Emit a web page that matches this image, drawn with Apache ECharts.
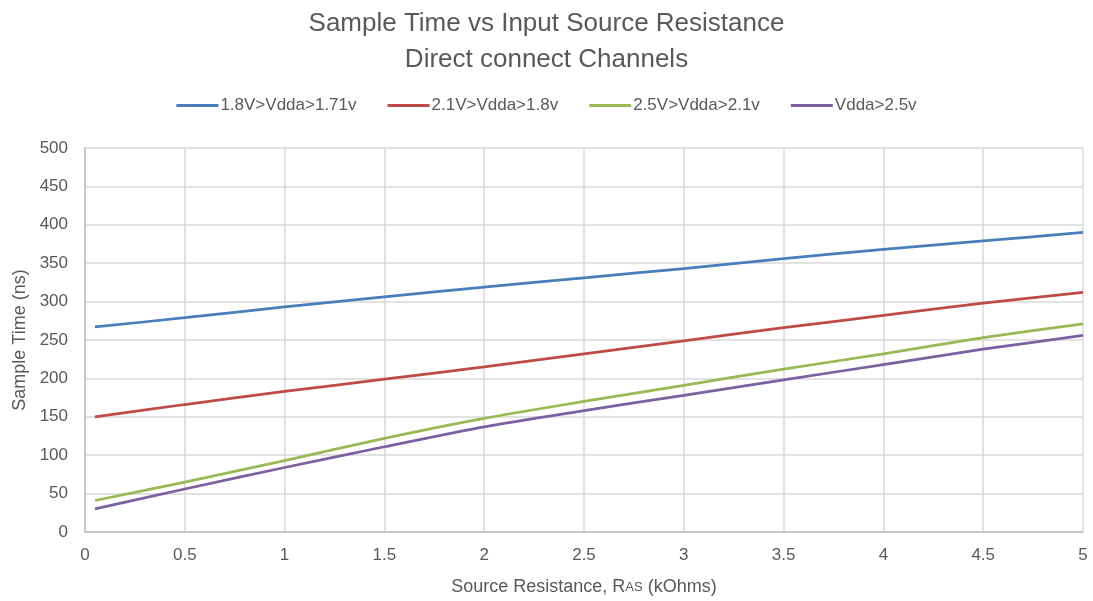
<!DOCTYPE html>
<html>
<head>
<meta charset="utf-8">
<script src="https://cdn.jsdelivr.net/npm/echarts@6/dist/echarts.min.js"></script>
<style>
  html, body { margin: 0; padding: 0; background: #fff; }
  #chart { width: 1093px; height: 601px; }
</style>
</head>
<body>
<div id="chart"></div>
<script>
// Data
const resistance = [0.05, 0.5, 1, 1.5, 2, 2.5, 3, 3.5, 4, 4.5, 5];
const seriesNames = ['1.8V>Vdda>1.71v', '2.1V>Vdda>1.8v', '2.5V>Vdda>2.1v', 'Vdda>2.5v'];
const vdda171 = [267, 279, 293, 306, 319, 331, 343, 356, 368, 379, 390];
const vdda18  = [150, 166, 183, 199, 215, 232, 249, 266, 282, 298, 312];
const vdda21  = [41, 65, 93, 122, 148, 170, 191, 212, 232, 253, 271];
const vdda25  = [30, 56, 84, 111, 137, 158, 178, 198, 218, 238, 256];
const yTicks = [0, 500, 50];
const xTicks = [0, 5, 0.5];

const colors = ['#4a7ebb', '#be4b48', '#98b954', '#7d60a0'];
const allValues = [vdda171, vdda18, vdda21, vdda25];

const textColor = '#595959';
const font = 'Liberation Sans, Arial, sans-serif';

const chart = echarts.init(document.getElementById('chart'));
chart.setOption({
  animation: false,
  backgroundColor: '#ffffff',
  textStyle: { fontFamily: font, color: textColor },
  title: [
    { text: 'Sample Time vs Input Source Resistance', left: 'center', top: 6,
      textStyle: { fontFamily: font, fontSize: 26, fontWeight: 'normal', color: textColor } },
    { text: 'Direct connect Channels', left: 'center', top: 42,
      textStyle: { fontFamily: font, fontSize: 26, fontWeight: 'normal', color: textColor } }
  ],
  legend: {
    top: 92,
    left: 'center',
    itemWidth: 42,
    itemHeight: 3,
    itemGap: 31,
    icon: 'rect',
    textStyle: { fontFamily: font, fontSize: 17, color: textColor, padding: [0, 0, 0, -3] },
    data: seriesNames
  },
  grid: { left: 85, right: 10, top: 148, bottom: 67, containLabel: false },
  xAxis: {
    type: 'value',
    min: xTicks[0], max: xTicks[1], interval: xTicks[2],
    name: 'Source Resistance, R{s|AS} (kOhms)',
    nameLocation: 'middle',
    nameGap: 46,
    nameTextStyle: { fontFamily: font, fontSize: 18, color: textColor,
      rich: { s: { fontFamily: font, fontSize: 13, color: textColor } } },
    axisLine: { show: true, lineStyle: { color: '#bfbfbf', width: 1.5 } },
    axisTick: { show: false },
    axisLabel: { fontFamily: font, fontSize: 17, color: textColor, margin: 15 },
    splitLine: { show: true, lineStyle: { color: '#d9d9d9', width: 1.5 } }
  },
  yAxis: {
    type: 'value',
    min: yTicks[0], max: yTicks[1], interval: yTicks[2],
    name: 'Sample Time (ns)',
    nameLocation: 'middle',
    nameGap: 56,
    nameTextStyle: { fontFamily: font, fontSize: 18, color: textColor },
    axisLine: { show: true, lineStyle: { color: '#bfbfbf', width: 1.5 } },
    axisTick: { show: false },
    axisLabel: { fontFamily: font, fontSize: 17, color: textColor, margin: 17 },
    splitLine: { show: true, lineStyle: { color: '#d9d9d9', width: 1.5 } }
  },
  series: seriesNames.map((name, i) => ({
    name: name,
    type: 'line',
    smooth: 0.25,
    showSymbol: false,
    symbol: 'none',
    color: colors[i],
    lineStyle: { width: 2.75, color: colors[i] },
    data: resistance.map((x, j) => [x, allValues[i][j]])
  }))
});
</script>
</body>
</html>
